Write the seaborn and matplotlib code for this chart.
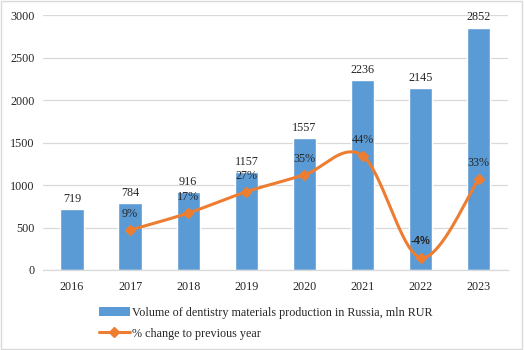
import numpy as np
import pandas as pd
import matplotlib
matplotlib.use("Agg")
import matplotlib.pyplot as plt
import seaborn as sns
from matplotlib.patches import Rectangle
from matplotlib.lines import Line2D
from matplotlib.patches import Patch

years = ["2016", "2017", "2018", "2019", "2020", "2021", "2022", "2023"]
volume = [719, 784, 916, 1157, 1557, 2236, 2145, 2852]
pct_years = ["2017", "2018", "2019", "2020", "2021", "2022", "2023"]
pct_change = [9, 17, 27, 35, 44, -4, 33]
y_ticks = [0, 500, 1000, 1500, 2000, 2500, 3000]

bar_label_name = "Volume of dentistry materials production in Russia, mln RUR"
line_label_name = "% change to previous year"

BLUE = "#5B9BD5"
ORANGE = "#ED7D31"

sns.set_theme(style="white")
plt.rcParams["font.family"] = ["Liberation Serif", "DejaVu Serif"]

fig = plt.figure(figsize=(5.24, 3.5), dpi=100)
ax = fig.add_axes([0.082, 0.2286, 0.887, 0.7284])

df = pd.DataFrame({"year": years, "volume": volume})
sns.barplot(data=df, x="year", y="volume", color=BLUE, width=0.4,
            saturation=1, ax=ax, zorder=2)
ax.set_xlim(-0.5, len(years) - 0.5)
ax.set_ylim(0, 3000)
ax.set_yticks(y_ticks)
ax.set_xlabel("")
ax.set_ylabel("")
ax.grid(axis="y", color="#D9D9D9", linewidth=0.9, zorder=0)
ax.set_axisbelow(True)
for s in ["top", "right", "left"]:
    ax.spines[s].set_visible(False)
ax.spines["bottom"].set_color("#D9D9D9")
ax.spines["bottom"].set_linewidth(0.9)
ax.tick_params(axis="y", length=0, labelsize=8.7, colors="#262626", pad=6)
ax.tick_params(axis="x", length=0, labelsize=8.7, colors="#262626", pad=8)
for c in ax.containers:
    ax.bar_label(c, labels=[str(v) for v in volume], padding=3,
                 fontsize=8.7, color="#262626")

# secondary (hidden) axis for percent line
ax2 = ax.twinx()
ax2.set_ylim(-9.8, 110.2)
ax2.set_yticks([])
for s in ax2.spines.values():
    s.set_visible(False)

xs = np.array([years.index(y) for y in pct_years], dtype=float)
ys = np.array(pct_change, dtype=float)

# Excel-like smoothed curve (cubic Bezier, Catmull-Rom control points)
cx, cy = [], []
n = len(xs)
t = np.linspace(0, 1, 40)
for i in range(n - 1):
    p0 = np.array([xs[max(i - 1, 0)], ys[max(i - 1, 0)]])
    p1 = np.array([xs[i], ys[i]])
    p2 = np.array([xs[i + 1], ys[i + 1]])
    p3 = np.array([xs[min(i + 2, n - 1)], ys[min(i + 2, n - 1)]])
    c1 = p1 + (p2 - p0) / 6.0
    c2 = p2 - (p3 - p1) / 6.0
    b = ((1 - t) ** 3)[:, None] * p1 + (3 * (1 - t) ** 2 * t)[:, None] * c1 \
        + (3 * (1 - t) * t ** 2)[:, None] * c2 + (t ** 3)[:, None] * p2
    cx.extend(b[:, 0])
    cy.extend(b[:, 1])
ax2.plot(cx, cy, color=ORANGE, linewidth=2.2, solid_capstyle="round", zorder=3)
ax2.plot(xs, ys, linestyle="none", marker="D", markersize=5.5,
         color=ORANGE, zorder=4)
for x, y in zip(xs, ys):
    if y < 0:
        ax2.annotate(f"{int(y)}%", (x, y), xytext=(0, 12), textcoords="offset points",
                     ha="center", va="center", fontsize=8, color="#262626",
                     fontweight="bold", family=["Liberation Sans", "DejaVu Sans"])
    else:
        ax2.annotate(f"{int(y)}%", (x, y), xytext=(0, 11.5), textcoords="offset points",
                     ha="center", va="center", fontsize=8.7, color="#262626")

handles = [Patch(facecolor=BLUE, edgecolor="none"),
           Line2D([0], [0], color=ORANGE, linewidth=2.2, marker="D", markersize=5.5)]
fig.legend(handles, [bar_label_name, line_label_name], loc="upper left",
           bbox_to_anchor=(0.188, 0.124), frameon=False, fontsize=8.7,
           handlelength=2.6, handletextpad=0.2, labelspacing=0.75,
           borderaxespad=0, borderpad=0)

fig.patches.append(Rectangle((0.002, 0.003), 0.995, 0.994, transform=fig.transFigure,
                             fill=False, edgecolor="#D9D9D9", linewidth=1.0))

fig.savefig("out.png", dpi=100)
